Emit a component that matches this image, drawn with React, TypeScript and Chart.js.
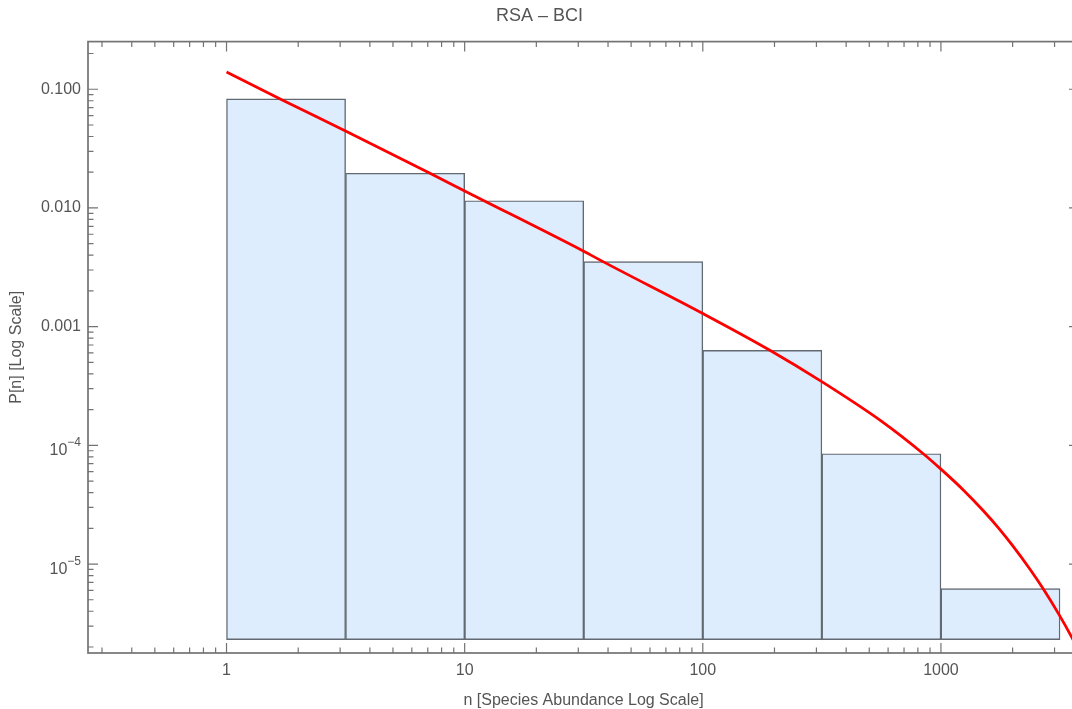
import React, { useEffect, useRef } from 'react';
import { Chart, registerables } from 'chart.js';

Chart.register(...registerables);

const TITLE = 'RSA – BCI';
const X_AXIS_TITLE = 'n [Species Abundance Log Scale]';
const Y_AXIS_TITLE = 'P[n] [Log Scale]';

// Histogram bins (edges, half-decade) and their heights
const binEdges = [1, 3.162, 10, 31.62, 100, 316.2, 1000, 3162];
const binHeights = [0.0829, 0.0196, 0.0115, 0.00353, 0.00063, 8.5e-5, 6.2e-6];
const barBase = 2.31e-6;

// Fitted curve
const fitN = [1, 1.68, 3.16, 7.15, 10, 31.6, 38.1, 100, 192, 311, 562, 843, 1000, 1250, 1500, 1750, 2000, 2370, 2692, 3120, 3550, 3800];
const fitP = [0.14, 0.0829, 0.0444, 0.0196, 0.0139, 0.00432, 0.00353, 0.00129, 0.00063, 0.000351, 0.00016, 8.5e-5, 6.3e-5, 4.15e-5, 2.84e-5, 2.0e-5, 1.43e-5, 9.0e-6, 6.16e-6, 3.8e-6, 2.4e-6, 1.85e-6];

const xTickValues = [1, 10, 100, 1000];
const xTickLabels = ['1', '10', '100', '1000'];
const yTickValues = [1e-5, 1e-4, 1e-3, 1e-2, 1e-1];
const yTickLabels = ['10', '10', '0.001', '0.010', '0.100'];
const yTickExponents = ['−5', '−4', '', '', ''];

const X_MIN = 0.262;
const X_MAX = 3800;
const Y_MIN = 1.78e-6;
const Y_MAX = 0.252;

const FONT = '"Liberation Sans", Arial, Helvetica, sans-serif';
const TEXT_COLOR = '#555555';
const AXIS_COLOR = '#737373';

const logTickValues = (min: number, max: number) => {
  const out: { v: number; major: boolean }[] = [];
  for (let e = Math.floor(Math.log10(min)); e <= Math.ceil(Math.log10(max)); e++) {
    for (let m = 1; m < 10; m++) {
      const v = m * Math.pow(10, e);
      if (v >= min && v <= max) out.push({ v, major: m === 1 });
    }
  }
  return out;
};

const frameTicksPlugin = {
  id: 'frameTicks',
  afterDatasetsDraw(chart: any) {
    const { ctx, chartArea: a, scales } = chart;
    const xs = scales.x;
    const ys = scales.y;
    ctx.save();
    ctx.strokeStyle = AXIS_COLOR;
    ctx.lineWidth = 1.2;
    ctx.beginPath();
    for (const t of logTickValues(xs.min, xs.max)) {
      const px = xs.getPixelForValue(t.v);
      const len = t.major ? 10 : 5.5;
      ctx.moveTo(px, a.bottom);
      ctx.lineTo(px, a.bottom - len);
      ctx.moveTo(px, a.top);
      ctx.lineTo(px, a.top + len);
    }
    for (const t of logTickValues(ys.min, ys.max)) {
      const py = ys.getPixelForValue(t.v);
      const len = t.major ? 10 : 5.5;
      ctx.moveTo(a.left, py);
      ctx.lineTo(a.left + len, py);
      if (t.major) {
        ctx.moveTo(a.right, py);
        ctx.lineTo(a.right - len, py);
      }
    }
    ctx.stroke();
    ctx.lineWidth = 1.7;
    ctx.strokeRect(a.left, a.top, a.right - a.left, a.bottom - a.top);

    // power-of-ten tick labels with superscript exponents
    const rightX = ys.right - 7;
    ctx.fillStyle = TEXT_COLOR;
    ctx.textAlign = 'right';
    ctx.textBaseline = 'alphabetic';
    yTickValues.forEach((v, i) => {
      const exp = yTickExponents[i];
      if (!exp) return;
      const py = ys.getPixelForValue(v);
      ctx.font = `12px ${FONT}`;
      const ew = ctx.measureText(exp).width;
      ctx.fillText(exp, rightX, py + 1);
      ctx.font = `16px ${FONT}`;
      ctx.fillText(yTickLabels[i], rightX - ew, py + 10);
    });
    ctx.restore();
  },
};

export default function App() {
  const canvasRef = useRef<HTMLCanvasElement | null>(null);

  useEffect(() => {
    if (!canvasRef.current) return;
    const barData = binHeights.map((h, i) => ({
      x: Math.sqrt(binEdges[i] * binEdges[i + 1]),
      y: h,
    }));
    const curveData = fitN.map((n, i) => ({ x: n, y: fitP[i] }));

    const chart = new Chart(canvasRef.current, {
      type: 'bar',
      data: {
        datasets: [
          {
            type: 'line',
            label: 'fit',
            data: curveData,
            borderColor: 'rgb(255,0,0)',
            borderWidth: 2.8,
            pointRadius: 0,
            fill: false,
            cubicInterpolationMode: 'monotone',
            order: 0,
          } as any,
          {
            type: 'bar',
            label: 'RSA',
            data: barData,
            base: barBase,
            backgroundColor: 'rgb(221,237,253)',
            borderColor: 'rgb(98,105,112)',
            borderWidth: 1.4,
            borderSkipped: false,
            barPercentage: 1,
            categoryPercentage: 1,
            order: 1,
          } as any,
        ],
      },
      options: {
        animation: false,
        responsive: false,
        maintainAspectRatio: false,
        layout: { padding: { left: 0, right: 11, top: 0, bottom: 0 } },
        plugins: {
          legend: { display: false },
          tooltip: { enabled: false },
          title: {
            display: true,
            text: TITLE,
            color: TEXT_COLOR,
            font: { family: FONT, size: 18, weight: 'normal', lineHeight: 1.2 },
            padding: { top: 5, bottom: 15 },
          },
        },
        scales: {
          x: {
            type: 'logarithmic',
            min: X_MIN,
            max: X_MAX,
            offset: false,
            grid: { display: false, drawTicks: false },
            border: { display: false },
            afterBuildTicks: (s: any) => {
              s.ticks = xTickValues.map((v) => ({ value: v }));
            },
            afterFit: (s: any) => {
              s.height = 56;
            },
            ticks: {
              autoSkip: false,
              maxRotation: 0,
              minRotation: 0,
              padding: 8,
              color: TEXT_COLOR,
              font: { family: FONT, size: 16 },
              callback: (_v: any, i: number) => xTickLabels[i],
            },
            title: {
              display: true,
              text: X_AXIS_TITLE,
              color: TEXT_COLOR,
              font: { family: FONT, size: 16, lineHeight: 1 },
              padding: { top: 0, bottom: 0 },
            },
          },
          y: {
            type: 'logarithmic',
            min: Y_MIN,
            max: Y_MAX,
            grid: { display: false, drawTicks: false },
            border: { display: false },
            afterBuildTicks: (s: any) => {
              s.ticks = yTickValues.map((v) => ({ value: v }));
            },
            afterFit: (s: any) => {
              s.width = 88;
            },
            ticks: {
              autoSkip: false,
              padding: 7,
              color: TEXT_COLOR,
              font: { family: FONT, size: 16 },
              // labels with an exponent are drawn by the plugin (superscript)
              callback: (_v: any, i: number) => (yTickExponents[i] ? '' : yTickLabels[i]),
            },
            title: {
              display: true,
              text: Y_AXIS_TITLE,
              color: TEXT_COLOR,
              font: { family: FONT, size: 16, lineHeight: 1 },
              padding: { top: 9, bottom: 0 },
            },
          },
        },
      } as any,
      plugins: [frameTicksPlugin],
    });
    return () => chart.destroy();
  }, []);

  return (
    <div
      style={{
        position: 'fixed',
        left: 0,
        top: 0,
        width: 1072,
        height: 709,
        overflow: 'hidden',
        background: '#ffffff',
      }}
    >
      <canvas
        ref={canvasRef}
        width={1090}
        height={709}
        style={{ display: 'block', width: 1090, height: 709 }}
      />
    </div>
  );
}
